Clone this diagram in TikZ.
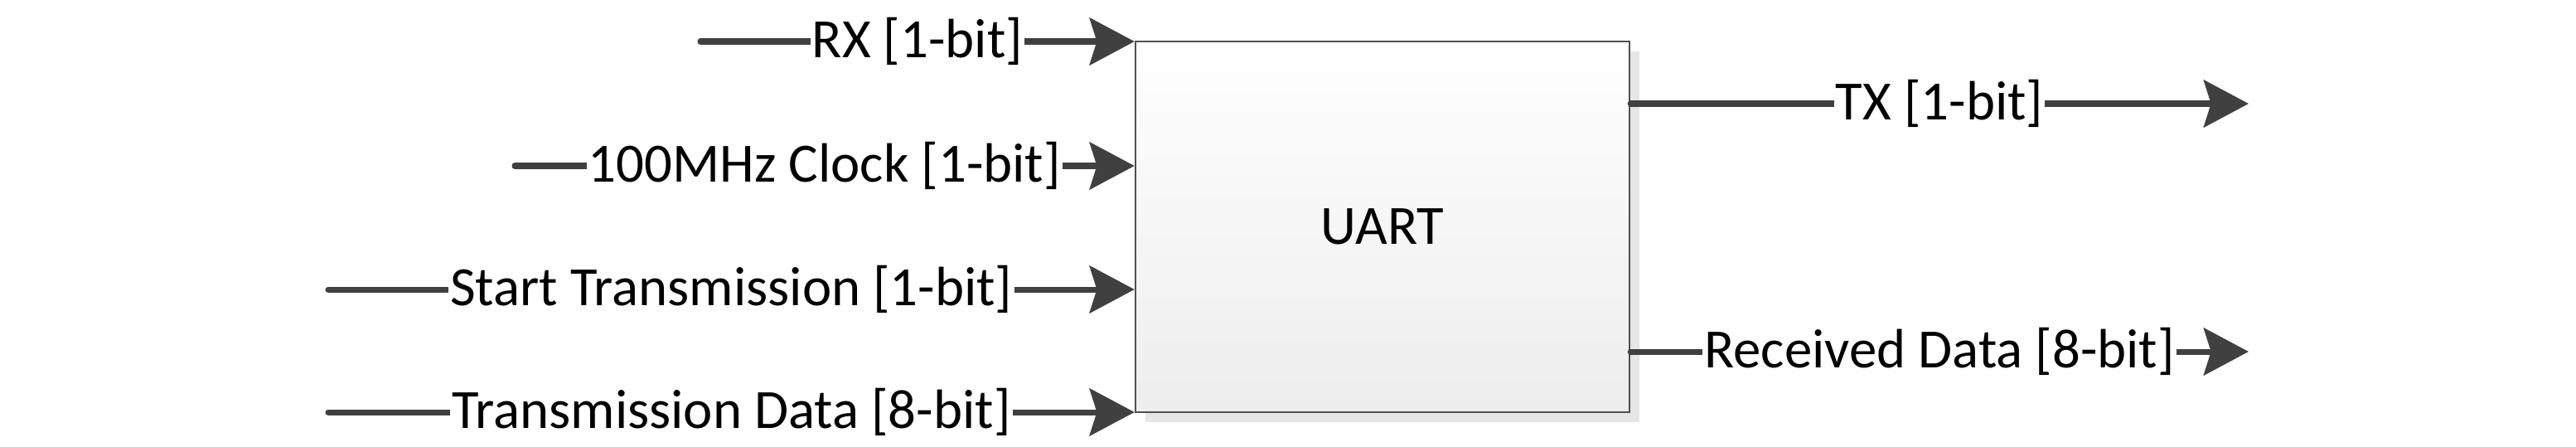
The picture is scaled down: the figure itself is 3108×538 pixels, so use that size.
\documentclass[tikz,border=0pt]{standalone}
\usepackage{fontspec}
\setmainfont{Carlito}
\usetikzlibrary{arrows.meta,shadows}
\definecolor{wire}{HTML}{404040}
\definecolor{frame}{HTML}{505050}
\definecolor{shade}{HTML}{E6E6E6}
\definecolor{boxbot}{HTML}{EDEDED}
\begin{document}
\begin{tikzpicture}[x=0.01cm,y=-0.01cm,
  wirestyle/.style={draw=wire, line width=2pt, line cap=round,
    -{Stealth[length=15.4pt,width=16.2pt,inset=2.5pt]}},
  lab/.style={fill=white, inner sep=0.6pt, font=\fontsize{19}{21}\selectfont, text=black},
  block/.style={draw=frame, line width=0.6pt, top color=white, bottom color=boxbot,
    minimum width=5.96cm, minimum height=4.47cm, inner sep=0pt,
    drop shadow={shadow xshift=0.12cm, shadow yshift=-0.12cm, fill=shade, opacity=1},
    font=\fontsize{19}{21}\selectfont}]
\useasboundingbox (0,0) rectangle (3108,538);
\node[block] (uart) at (1668,273.5) {UART};
% input start points
\coordinate (rxs) at (845,50);
\coordinate (clks) at (621,200);
\coordinate (sts) at (396,349);
\coordinate (tds) at (396,497);
% output end points
\coordinate (txe) at (2713,125);
\coordinate (rde) at (2713,424);
% inputs
\draw[wirestyle] (rxs) -- (uart.west |- rxs) node[lab, midway] {RX [1-bit]};
\draw[wirestyle] (clks) -- (uart.west |- clks) node[lab, midway] {100MHz Clock [1-bit]};
\draw[wirestyle] (sts) -- (uart.west |- sts) node[lab, midway] {Start Transmission [1-bit]};
\draw[wirestyle] (tds) -- (uart.west |- tds) node[lab, midway] {Transmission Data [8-bit]};
% outputs
\draw[wirestyle] (uart.east |- txe) -- (txe) node[lab, midway] {TX [1-bit]};
\draw[wirestyle] (uart.east |- rde) -- (rde) node[lab, midway] {Received Data [8-bit]};
\end{tikzpicture}
\end{document}
